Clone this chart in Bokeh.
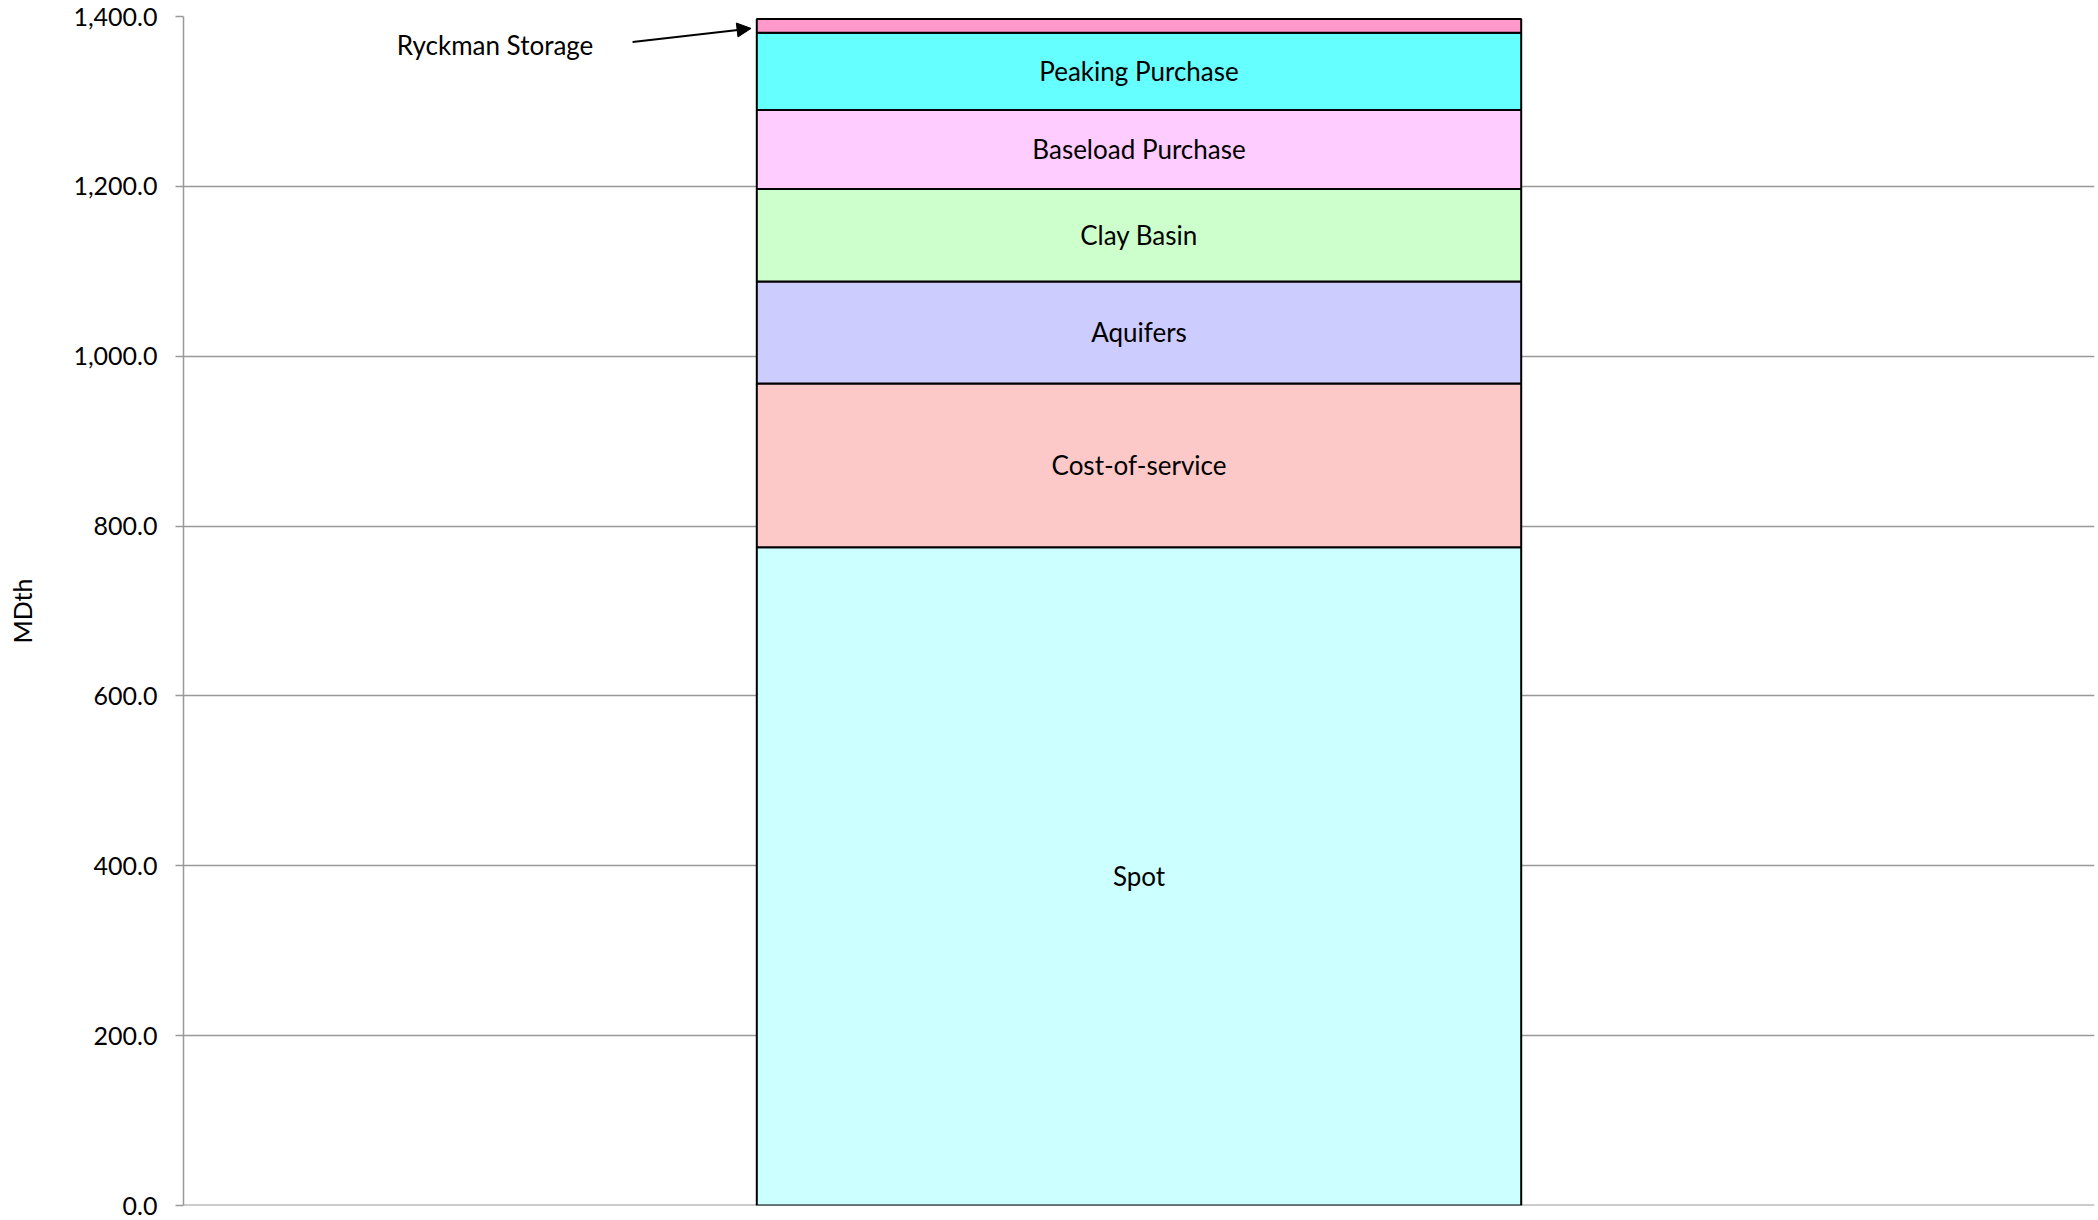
import numpy as np
from bokeh.plotting import figure
from bokeh.models import (ColumnDataSource, NumeralTickFormatter, FixedTicker,
                          Range1d, Arrow, NormalHead, Label, Span)
from bokeh.core.properties import value
from bokeh.embed import file_html
from bokeh.resources import INLINE

# ---- data (MDth) ----
series = ["Spot", "Cost-of-service", "Aquifers", "Clay Basin",
          "Baseload Purchase", "Peaking Purchase", "Ryckman Storage"]
amounts = [775.0, 193.0, 120.0, 109.0, 93.0, 91.0, 16.0]
colors = ["#CCFFFF", "#FCC8C8", "#CCCCFF", "#CCFFCC",
          "#FFCCFF", "#66FFFF", "#FF99CC"]
y_ticks = [0, 200, 400, 600, 800, 1000, 1200, 1400]
inside_labels = ["Spot", "Cost-of-service", "Aquifers", "Clay Basin",
                 "Baseload Purchase", "Peaking Purchase"]

FONT = "Lato"

p = figure(width=2098, height=1220, output_backend="svg", toolbar_location=None,
           x_range=Range1d(0, 1), y_range=Range1d(0, 1400),
           min_border_left=183, min_border_right=4, min_border_top=16,
           min_border_bottom=15)
p.outline_line_color = None
p.xaxis.visible = False
p.xgrid.visible = False

# baseline (category axis line)
p.add_layout(Span(location=0, dimension="width", line_color="#999999",
                  line_width=2, level="underlay"))

src = ColumnDataSource({"x": [0.5], **{s: [a] for s, a in zip(series, amounts)}})
p.vbar_stack(series, x="x", width=0.4, source=src, fill_color=colors,
             line_color="black", line_width=2)

# labels in the middle of each segment
tops = np.cumsum(amounts)
bottoms = tops - np.array(amounts)
mids = (tops + bottoms) / 2
lab_src = ColumnDataSource({
    "x": [0.5] * len(inside_labels),
    "y": [mids[series.index(s)] for s in inside_labels],
    "t": inside_labels,
})
p.text(x="x", y="y", text="t", source=lab_src, text_align="center",
       text_baseline="middle", text_font=value(FONT), text_font_size="26px",
       text_color="black")

# annotation for Ryckman Storage
p.add_layout(Label(x=0.163, y=1366, text="Ryckman Storage", text_align="center",
                   text_baseline="middle", text_font=FONT, text_font_size="26px",
                   text_color="black"))
p.add_layout(Arrow(x_start=0.235, y_start=1370, x_end=0.297, y_end=1386,
                   line_color="black", line_width=2,
                   end=NormalHead(size=14, fill_color="black", line_color="black")))

# y axis
p.yaxis.ticker = FixedTicker(ticks=y_ticks)
p.yaxis.formatter = NumeralTickFormatter(format="0,0.0")
p.yaxis.axis_label = "MDth"
p.yaxis.axis_label_text_font = FONT
p.yaxis.axis_label_text_font_style = "normal"
p.yaxis.axis_label_text_font_size = "25px"
p.yaxis.axis_label_text_color = "black"
p.yaxis.axis_label_standoff = 33
p.yaxis.major_label_text_font = FONT
p.yaxis.major_label_text_font_size = "25px"
p.yaxis.major_label_text_color = "black"
p.yaxis.major_label_standoff = 18
p.yaxis.axis_line_color = "#999999"
p.yaxis.axis_line_width = 1.5
p.yaxis.major_tick_line_color = "#999999"
p.yaxis.major_tick_line_width = 1.5
p.yaxis.major_tick_out = 8
p.yaxis.major_tick_in = 0
p.yaxis.minor_tick_line_color = None

p.ygrid.ticker = FixedTicker(ticks=y_ticks)
p.ygrid.grid_line_color = "#999999"
p.ygrid.grid_line_width = 1.5

open("out.html", "w").write(file_html(p, INLINE))
